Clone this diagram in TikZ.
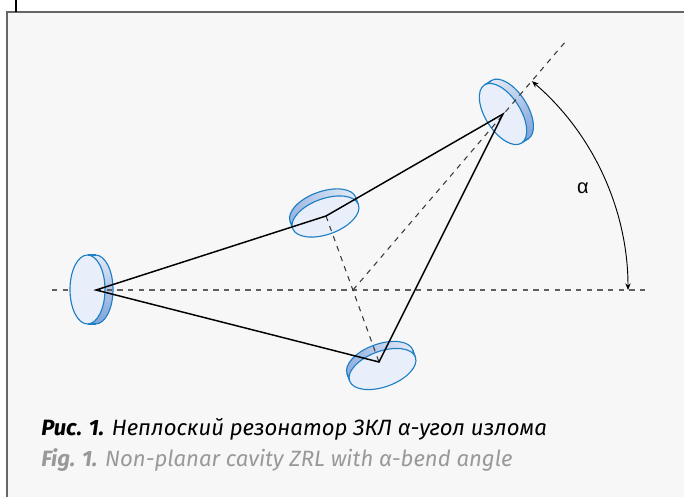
\documentclass[tikz,border=0pt]{standalone}
\usepackage{fontspec}
\setmainfont{Fira Sans}
\newfontfamily\alphafont{Liberation Sans}
\usetikzlibrary{arrows.meta}
\definecolor{panelbg}{HTML}{F7F7F7}
\definecolor{discline}{HTML}{1F7FC4}
\definecolor{discface}{HTML}{E9EFFA}
\definecolor{sidelight}{HTML}{E2E9F7}
\definecolor{sidedark}{HTML}{80A4DA}
\definecolor{frameline}{HTML}{666666}
\definecolor{dashline}{HTML}{3A3A3A}
\definecolor{dashgrey}{HTML}{606060}
\definecolor{engcap}{HTML}{999999}
\tikzset{
  x=0.75pt,y=-0.75pt,
  beam/.style={draw=black,line width=1.1pt,line join=miter},
  axisline/.style={draw=dashline,line width=0.8pt,dash pattern=on 4pt off 4pt},
  levelline/.style={axisline,draw=dashgrey},
  anglearc/.style={draw=black,line width=0.7pt,{Stealth[length=5pt,width=4pt]}-{Stealth[length=5pt,width=4pt]}},
  discedge/.style={draw=discline,line width=0.85pt},
  capru/.style={anchor=base west,inner sep=0pt,font=\fontsize{16.6pt}{19pt}\selectfont\itshape,text=black},
  capen/.style={anchor=base west,inner sep=0pt,font=\fontsize{16.6pt}{19pt}\selectfont\itshape,text=engcap},
  alphalabel/.style={inner sep=0pt,font=\alphafont\fontsize{15pt}{17pt}\selectfont}
}
% centre x, centre y, axis angle, half-major, half-minor, thickness, darkest percent
\newcommand{\mirrordisc}[7]{%
  \begin{scope}[shift={(#1,#2)},rotate=#3,x=0.75pt,y=0.75pt]
    \begin{scope}
      \clip (-#4,0) -- (-#4,#6) arc[start angle=180,end angle=0,x radius=#4,y radius=#5] -- (#4,0)
        arc[start angle=0,end angle=-180,x radius=#4,y radius=#5] -- cycle
        (-#4,#6) arc[start angle=180,end angle=-180,x radius=#4,y radius=#5];
      \foreach \stripe in {0,...,39}{
        \pgfmathsetmacro{\pct}{\stripe*#7/39}
        \pgfmathsetmacro{\xa}{-#4+2*#4*\stripe/40}
        \pgfmathsetmacro{\xb}{-#4+2*#4*(\stripe+1.5)/40}
        \fill[sidedark!\pct!sidelight] (\xa,-40) rectangle (\xb,40);
      }
    \end{scope}
    \draw[discedge] (-#4,0) -- (-#4,#6) (#4,0) -- (#4,#6);
    \draw[discedge] (0,#6) ellipse[x radius=#4,y radius=#5];
    \draw[discedge,fill=discface] (0,0) ellipse[x radius=#4,y radius=#5];
  \end{scope}}
\begin{document}
\begin{tikzpicture}
\useasboundingbox (0,0) rectangle (684,497);
\fill[white] (0,0) rectangle (684,497);
\fill[panelbg] (7,12) rectangle (684,497);
\draw[frameline,line width=1pt] (7,497) -- (7,12) -- (684,12);
\draw[black,line width=0.8pt] (16,0) -- (16,12);

\coordinate (A) at (96,290);
\coordinate (M) at (326,216);
\coordinate (T) at (503,114);
\coordinate (B) at (379,362);
\coordinate (X) at (353,290);
\coordinate (Hl) at (52,290);
\coordinate (Hr) at (645,290);
\coordinate (Dt) at (566,41);
\coordinate (ArcS) at (628,290);

\draw[levelline] (Hl) -- (A);
\mirrordisc{87.5}{289.5}{-90}{34.5}{17.5}{8}{100}
\mirrordisc{503}{114}{-57.5}{34.5}{17.5}{8}{100}
\mirrordisc{325.5}{216.5}{200}{35}{17.8}{-7.5}{75}
\mirrordisc{382.5}{369}{200}{35}{17.8}{-7.5}{85}

\draw[levelline] (A) -- (Hr);
\draw[axisline] (X) -- (Dt);
\draw[axisline] (M) -- (B);

\draw[beam] (A) -- (M) -- (T) -- (B) -- cycle;

\draw[anglearc] (ArcS) arc[start angle=0,end angle=-49.4,radius=275];
\node[alphalabel] (alpha) at (583,188) {α};

\node[capru] (capA) at (41,435) {\textbf{Рис. 1.} Неплоский резонатор ЗКЛ α-угол излома};
\node[capen] (capB) at (41,466) {\textbf{Fig. 1.} Non-planar cavity ZRL with α-bend angle};
\end{tikzpicture}
\end{document}
